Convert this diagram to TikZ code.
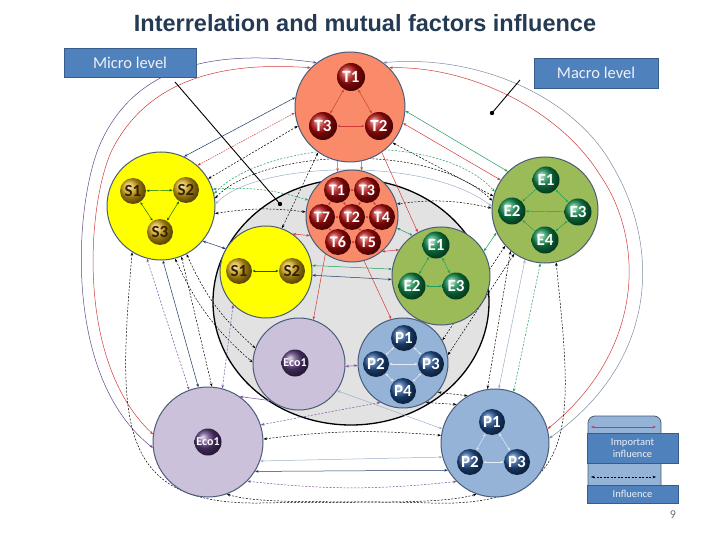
\documentclass[tikz,border=0pt]{standalone}
\usepackage{fontspec}
\setmainfont{Carlito}
\newfontfamily\titlefont{Liberation Sans}
\usetikzlibrary{arrows.meta,shapes.geometric}
\definecolor{titlec}{HTML}{243B53}
\definecolor{boxf}{HTML}{4F81BD}
\definecolor{boxd}{HTML}{385D8A}
\definecolor{salm}{HTML}{F98B6B}
\definecolor{ylw}{HTML}{FFFF00}
\definecolor{grnf}{HTML}{9BBB59}
\definecolor{purf}{HTML}{CCC1DA}
\definecolor{bluf}{HTML}{95B3D7}
\definecolor{grayf}{HTML}{E2E2E2}
\definecolor{edgec}{HTML}{4A5C78}
\definecolor{impred}{HTML}{D23A3A}
\definecolor{navy}{HTML}{1F3864}
\definecolor{grnl}{HTML}{1E9E5A}
\definecolor{purl}{HTML}{7B4F9E}
\definecolor{lbl}{HTML}{9AB0CC}
\definecolor{tb}{HTML}{B00A0A}
\definecolor{sb}{HTML}{D4A514}
\definecolor{eb}{HTML}{0E8A4A}
\definecolor{pb}{HTML}{1F4F8F}
\definecolor{ecob}{HTML}{5A3A7A}
\pgfdeclarelayer{back}\pgfdeclarelayer{mid}\pgfsetlayers{back,mid,main}
\tikzset{
  bigc/.style={circle, draw=edgec, line width=1pt, inner sep=0pt},
  ball/.style={circle, inner sep=0pt, minimum size=27pt, font=\bfseries\fontsize{17}{17}\selectfont, text=white},
  tball/.style={ball, ball color=tb},
  sball/.style={ball, ball color=sb, text={rgb,255:red,50;green,35;blue,0}, minimum size=26pt},
  eball/.style={ball, ball color=eb},
  pball/.style={ball, ball color=pb, minimum size=26pt},
  ecoball/.style={ball, ball color=ecob, font=\bfseries\fontsize{12}{12}\selectfont, minimum size=27pt},
  lvl/.style={draw=boxd, fill=boxf, line width=0.8pt, text={rgb,255:red,240;green,240;blue,245}, inner sep=0pt},
  conn/.style={line width=0.5pt, >={Stealth[length=3.5pt,width=2.6pt]}},
  imp/.style={conn, <->, draw=impred},
  impd/.style={conn, <->, draw=impred, dash pattern=on 1.5pt off 1pt},
  inf/.style={conn, <->, draw=black, dash pattern=on 2pt off 1.5pt},
  nav/.style={conn, <->, draw=navy},
  grn/.style={conn, <->, draw=grnl},
  grnd/.style={conn, <->, draw=grnl, dash pattern=on 2pt off 1.5pt},
  pur/.style={conn, <->, draw=purl},
  purd/.style={conn, <->, draw=purl, dash pattern=on 2pt off 1.5pt},
  lb/.style={conn, <->, draw=lbl},
  small/.style={line width=0.45pt, <->, >={Stealth[length=3pt,width=2.4pt]}, shorten <=0.3pt, shorten >=0.3pt}
}
\begin{document}
\begin{tikzpicture}[x=1pt,y=-1pt]
\useasboundingbox (0,0) rectangle (720,540);
\begin{pgfonlayer}{back}
\fill[white] (0,0) rectangle (720,540);
\end{pgfonlayer}

% title
\node[font=\titlefont\bfseries\fontsize{23.5}{24}\selectfont, text=titlec] (title) at (365,23) {Interrelation and mutual factors influence};

% level boxes
\node[lvl, minimum width=132pt, minimum height=29pt, font=\fontsize{16.5}{16.5}\selectfont] (micro) at (130,62.5) {Micro level};
\node[lvl, minimum width=124pt, minimum height=30pt, font=\fontsize{16.5}{16.5}\selectfont] (macro) at (596,73) {Macro level};

% big circles
\node[bigc, fill=salm, minimum size=110pt] (MT) at (350,107) {};
\node[bigc, fill=ylw, minimum size=108pt] (MS) at (161,206) {};
\node[bigc, fill=grnf, minimum size=106pt] (ME) at (545,210) {};
\node[bigc, fill=purf, minimum size=110pt] (MEco) at (208,442) {};
\node[bigc, fill=bluf, minimum size=108pt] (MP) at (495,443) {};

% gray micro region
\begin{pgfonlayer}{back}
\node[ellipse, draw=black, line width=1.3pt, fill=grayf, minimum width=276pt, minimum height=246pt, inner sep=0pt] (G) at (351,302) {};
\end{pgfonlayer}

\node[bigc, fill=salm, minimum size=92pt] (mT) at (352,216) {};
\node[bigc, fill=ylw, minimum size=92pt] (mS) at (266,272) {};
\node[bigc, fill=grnf, minimum size=98pt] (mE) at (441,276) {};
\node[bigc, fill=purf, minimum size=92pt] (mEco) at (299,364) {};
\node[bigc, fill=bluf, minimum size=90pt] (mP) at (403,363) {};

% connectors
\begin{pgfonlayer}{mid}
% outer arcs
\draw[imp] (MT.135) .. controls (230,62) and (150,75) .. (112,150) .. controls (88,200) and (74,360) .. (MEco.172);
\draw[conn,<->,draw=purl!70!navy] (MT.127) .. controls (225,50) and (140,60) .. (102,140) .. controls (75,195) and (60,375) .. (MEco.186);
\draw[imp] (MT.45) .. controls (470,66) and (560,110) .. (600,175) .. controls (645,240) and (645,350) .. (MP.15);
\draw[conn,<->,draw=lbl!80!black] (MT.53) .. controls (480,54) and (575,98) .. (612,165) .. controls (660,245) and (660,360) .. (MP.5);
% macro - macro
\draw[nav] (MS.65) -- (MT.170);
\draw[impd] (MS.48) -- (MT.186);
\draw[grn] (MT.-4) -- (ME.134);
\draw[imp] (MT.-17) -- (ME.146);
\draw[inf] (MT.200) -- (MS.30);
\draw[inf] (MT.-40) -- (ME.165);
\draw[purd] (MS.255) -- (MEco.110);
\draw[nav] (MS.272) -- (MEco.100);
\draw[inf] (MS.292) -- (MEco.86);
\draw[grnd] (ME.265) -- (MP.70);
\draw[lb] (ME.248) -- (MP.86);
\draw[inf] (ME.230) -- (MP.98);
\draw[lb] (MEco.-20) -- (MP.-165);
\draw[nav] (MEco.-32) -- (MP.-150);
\draw[inf] (MEco.3) to[bend left=6] (MP.172);
\draw[purd] (MEco.-45) to[bend right=6] (MP.-135);
\draw[inf] (MS.238) .. controls (118,420) and (115,505) .. (260,503) .. controls (360,501) and (440,505) .. (MP.-110);
\draw[inf] (ME.-78) .. controls (572,420) and (585,508) .. (430,503) .. controls (340,500) and (260,505) .. (MEco.-70);
% macro T - micro T
\draw[conn,->,draw=impred] (MT.-103) -- (mT.108);
\draw[conn,->,draw=impred] (MT.-78) -- (mT.78);
% macro - micro
\draw[nav] (MS.-40) -- (mS.150);
\draw[inf] (MS.-8) to[bend left=8] (mT.175);
\draw[grnd] (MS.18) to[bend left=10] (mT.160);
\draw[inf] (MS.8) .. controls (260,150) and (430,140) .. (ME.170);
\draw[grnd] (MS.13) .. controls (265,140) and (440,130) .. (ME.160);
\draw[conn,<->,draw=lbl] (MS.2) .. controls (255,162) and (425,155) .. (ME.176);
\draw[inf] (MT.-125) -- (mS.70);
\draw[conn,->,draw=impred] (MT.-55) -- (mE.118);
\draw[inf] (ME.178) to[bend right=10] (mT.15);
\draw[grn] (ME.205) -- (mE.30);
\draw[inf] (ME.222) -- (mP.30);
\draw[inf] (ME.235) -- (mP.10);
\draw[inf] (MS.-62) to[bend right=12] (mEco.160);
\draw[inf] (MS.-75) to[bend right=12] (mEco.178);
\draw[purd] (mS.225) -- (MEco.75);
\draw[pur] (MEco.55) -- (mEco.232);
\draw[purd] (MEco.18) -- (mP.240);
\draw[lb] (MP.165) -- (mEco.-35);
\draw[inf] (MP.120) -- (mP.-40);
\draw[inf] (MP.135) -- (mP.-60);
% micro - micro
\draw[grn] (mS.8) -- (mE.172);
\draw[nav] (mS.-4) -- (mE.-176);
\draw[grn] (mT.-15) -- (mE.125);
\draw[imp] (mT.-50) -- (mE.148);
\draw[imp] (mT.205) -- (mS.55);
\draw[pur] (mEco.-3) -- (mP.183);
\draw[conn,->,draw=impred] (mT.235) -- (mEco.72);
\draw[conn,->,draw=impred] (mT.-75) -- (mP.105);
\end{pgfonlayer}

% balls: macro T
\node[tball, minimum size=28pt] (T1a) at (351,77) {T1};
\node[tball, minimum size=28pt] (T3a) at (323,126) {T3};
\node[tball, minimum size=28pt] (T2a) at (379,126) {T2};
\draw[small, impred] (T1a) -- (T3a);
\draw[small, impred] (T1a) -- (T2a);
\draw[small, impred] (T3a) -- (T2a);

% macro S
\node[sball] (S1a) at (133,191) {S1};
\node[sball] (S2a) at (186,190) {S2};
\node[sball] (S3a) at (160,232) {S3};
\draw[small, green!40!black] (S1a) -- (S2a);
\draw[small, green!40!black] (S1a) -- (S3a);
\draw[small, green!40!black] (S2a) -- (S3a);

% macro E
\node[eball] (E1a) at (546,180) {E1};
\node[eball] (E2a) at (512,211) {E2};
\node[eball] (E3a) at (578,212) {E3};
\node[eball] (E4a) at (545,240) {E4};
\draw[small, grnl, <-] (E2a) -- (E1a);
\draw[small, grnl] (E1a) -- (E3a);
\draw[small, grnl, <-] (E2a) -- (E3a);
\draw[small, grnl] (E3a) -- (E4a);
\draw[small, grnl, <-] (E2a) -- (E4a);

% macro Eco, P
\node[ecoball] (Eco1a) at (208,442) {Eco1};
\node[pball] (P1a) at (492,422) {P1};
\node[pball] (P2a) at (470,462) {P2};
\node[pball] (P3a) at (517,462) {P3};
\draw[small, white!75!bluf] (P1a) -- (P2a);
\draw[small, white!75!bluf] (P1a) -- (P3a);
\draw[small, white!75!bluf] (P2a) -- (P3a);

% micro T
\begin{scope}[every node/.style={tball, minimum size=26pt, font=\bfseries\fontsize{16}{16}\selectfont}]
\node (t1) at (337,190) {T1};
\node (t3) at (367,190) {T3};
\node (t7) at (322,217) {T7};
\node (t2) at (352,217) {T2};
\node (t4) at (382,217) {T4};
\node (t6) at (338,242) {T6};
\node (t5) at (368,242) {T5};
\end{scope}
\foreach \a/\b in {t1/t3,t1/t7,t1/t2,t3/t2,t3/t4,t7/t2,t2/t4,t7/t6,t2/t6,t2/t5,t6/t5,t4/t5}
  \draw[small, impred, >={Stealth[length=2pt,width=1.8pt]}] (\a) -- (\b);

% micro S
\node[sball] (s1) at (239,271) {S1};
\node[sball] (s2) at (292,271) {S2};
\draw[small, green!40!black] (s1) -- (s2);

% micro E
\node[eball] (e1) at (436,245) {E1};
\node[eball] (e2) at (412,286) {E2};
\node[eball] (e3) at (456,286) {E3};
\draw[small, grnl] (e1) -- (e2);
\draw[small, grnl] (e1) -- (e3);
\draw[small, grnl] (e2) -- (e3);

% micro Eco, P
\node[ecoball] (eco1) at (295,363) {Eco1};
\node[pball] (p1) at (404,338) {P1};
\node[pball] (p2) at (376,364) {P2};
\node[pball] (p3) at (431,364) {P3};
\node[pball] (p4) at (403,391) {P4};
\draw[small, white!75!bluf] (p1) -- (p2);
\draw[small, white!75!bluf] (p1) -- (p3);
\draw[small, white!75!bluf] (p2) -- (p3);
\draw[small, white!75!bluf] (p2) -- (p4);
\draw[small, white!75!bluf] (p3) -- (p4);

% level pointers
\coordinate (mic0) at (175,82);
\coordinate (micE) at (280,204);
\draw[line width=0.9pt] (mic0) -- (micE);
\fill (micE) circle[radius=2.2pt];
\coordinate (mac0) at (520,80);
\coordinate (macE) at (492,113);
\draw[line width=0.9pt] (mac0) -- (macE);
\fill (macE) circle[radius=2.2pt];

% legend
\node[draw=edgec, fill=bluf, line width=0.8pt, rounded corners=7pt, minimum width=73pt, minimum height=84pt, inner sep=0pt] (leg) at (624.5,458) {};
\coordinate (la) at (591,427);
\coordinate (lb2) at (656,427);
\draw[imp] (la) -- (lb2);
\node[lvl, minimum width=91pt, minimum height=30pt, align=center, font=\fontsize{10.5}{12}\selectfont] (impbox) at (632.5,448) {Important\\influence};
\coordinate (lc) at (591,477);
\coordinate (ld) at (656,477);
\draw[inf] (lc) -- (ld);
\node[lvl, minimum width=91pt, minimum height=18pt, font=\fontsize{10.5}{12}\selectfont] (infbox) at (632.5,494) {Influence};

\node[text={rgb,255:red,110;green,110;blue,110}, font=\fontsize{12}{12}\selectfont] (pg) at (673,515) {9};
\end{tikzpicture}
\end{document}
